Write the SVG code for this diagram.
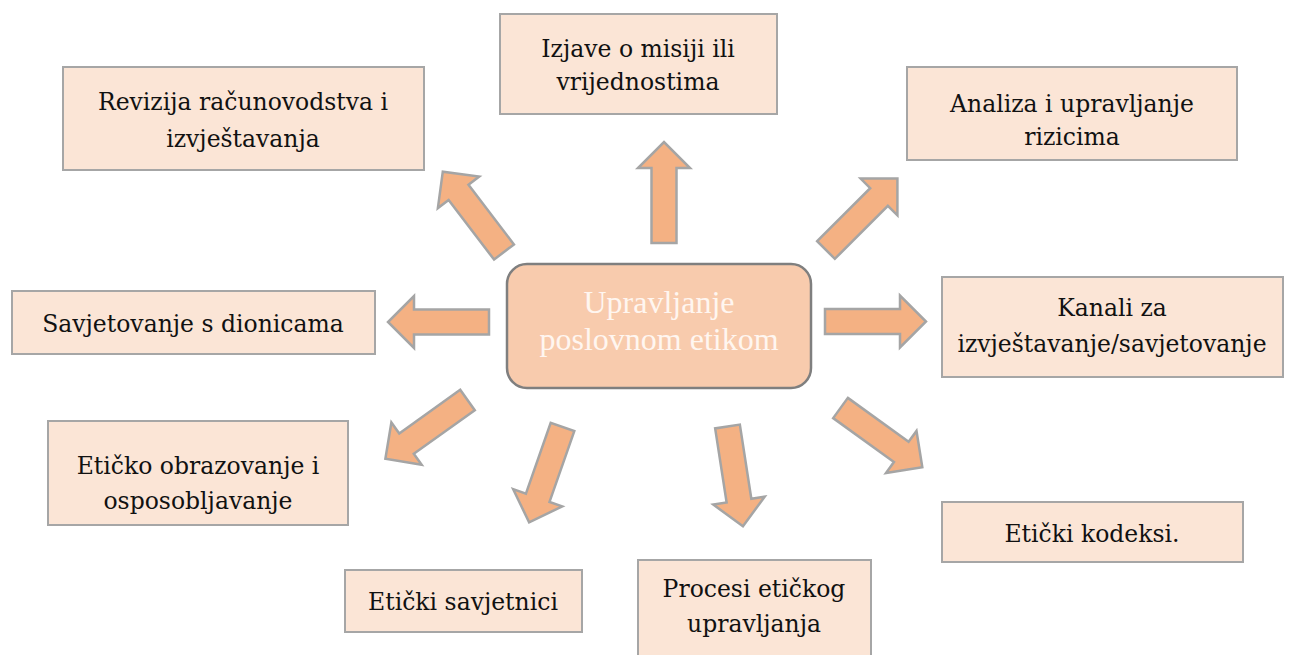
<svg xmlns="http://www.w3.org/2000/svg" width="1295" height="655" viewBox="0 0 1295 655">
<style>
.box{fill:#FBE5D6;stroke:#A6A6A6;stroke-width:2}
.lbl{font-family:"DejaVu Serif","Liberation Serif",serif;font-size:23.5px;fill:#111111;text-anchor:middle}
.ctr{font-family:"Liberation Serif","Times New Roman",serif;font-size:32px;fill:#FFF6F0;text-anchor:middle}
.arr{fill:#F4B183;stroke:#A5A5A5;stroke-width:2.5;stroke-linejoin:miter}
</style>
<defs>
<polygon id="ar" points="0,-12.5 75,-12.5 75,-26 101,0 75,26 75,12.5 0,12.5"/>
</defs>
<rect width="1295" height="655" fill="#fff"/>
<g id="connectors">
<use href="#ar" class="arr" transform="translate(664,243) rotate(-90)"/>
<use href="#ar" class="arr" transform="translate(504,252) rotate(-127.3)"/>
<use href="#ar" class="arr" transform="translate(826,250) rotate(-45)"/>
<use href="#ar" class="arr" transform="translate(489,322) rotate(180)"/>
<use href="#ar" class="arr" transform="translate(825,321.5) rotate(0)"/>
<use href="#ar" class="arr" transform="translate(467.5,400) rotate(144.4)"/>
<use href="#ar" class="arr" transform="translate(562.5,427) rotate(109.3)"/>
<use href="#ar" class="arr" transform="translate(727.5,426.5) rotate(81.2)"/>
<use href="#ar" class="arr" transform="translate(840.5,408) rotate(35.9)"/>
</g>
<g id="center">
<rect x="507" y="264" width="304" height="124" rx="20" fill="#F8CBAD" stroke="#7F7F7F" stroke-width="2.5"/>
<text class="ctr" x="659" y="313">Upravljanje</text>
<text class="ctr" x="659" y="350">poslovnom etikom</text>
</g>
<g id="revizija">
<rect class="box" x="63" y="67" width="361" height="103"/>
<text class="lbl" x="243" y="110">Revizija računovodstva i</text>
<text class="lbl" x="243" y="147">izvještavanja</text>
</g>
<g id="izjave">
<rect class="box" x="500" y="14" width="277" height="100"/>
<text class="lbl" x="638" y="57">Izjave o misiji ili</text>
<text class="lbl" x="638" y="90">vrijednostima</text>
</g>
<g id="analiza">
<rect class="box" x="907" y="67" width="330" height="93"/>
<text class="lbl" x="1072" y="112">Analiza i upravljanje</text>
<text class="lbl" x="1072" y="145">rizicima</text>
</g>
<g id="savjetovanje">
<rect class="box" x="12" y="291" width="363" height="63"/>
<text class="lbl" x="193" y="332">Savjetovanje s dionicama</text>
</g>
<g id="kanali">
<rect class="box" x="942" y="277" width="341" height="100"/>
<text class="lbl" x="1112" y="316">Kanali za</text>
<text class="lbl" x="1112" y="352">izvještavanje/savjetovanje</text>
</g>
<g id="obrazovanje">
<rect class="box" x="48" y="421" width="300" height="104"/>
<text class="lbl" x="198" y="474">Etičko obrazovanje i</text>
<text class="lbl" x="198" y="509">osposobljavanje</text>
</g>
<g id="kodeksi">
<rect class="box" x="942" y="502" width="301" height="60"/>
<text class="lbl" x="1092" y="542">Etički kodeksi.</text>
</g>
<g id="savjetnici">
<rect class="box" x="345" y="570" width="237" height="62"/>
<text class="lbl" x="463" y="610">Etički savjetnici</text>
</g>
<g id="procesi">
<rect class="box" x="638" y="560" width="233" height="110"/>
<text class="lbl" x="754" y="597">Procesi etičkog</text>
<text class="lbl" x="754" y="632">upravljanja</text>
</g>
</svg>
